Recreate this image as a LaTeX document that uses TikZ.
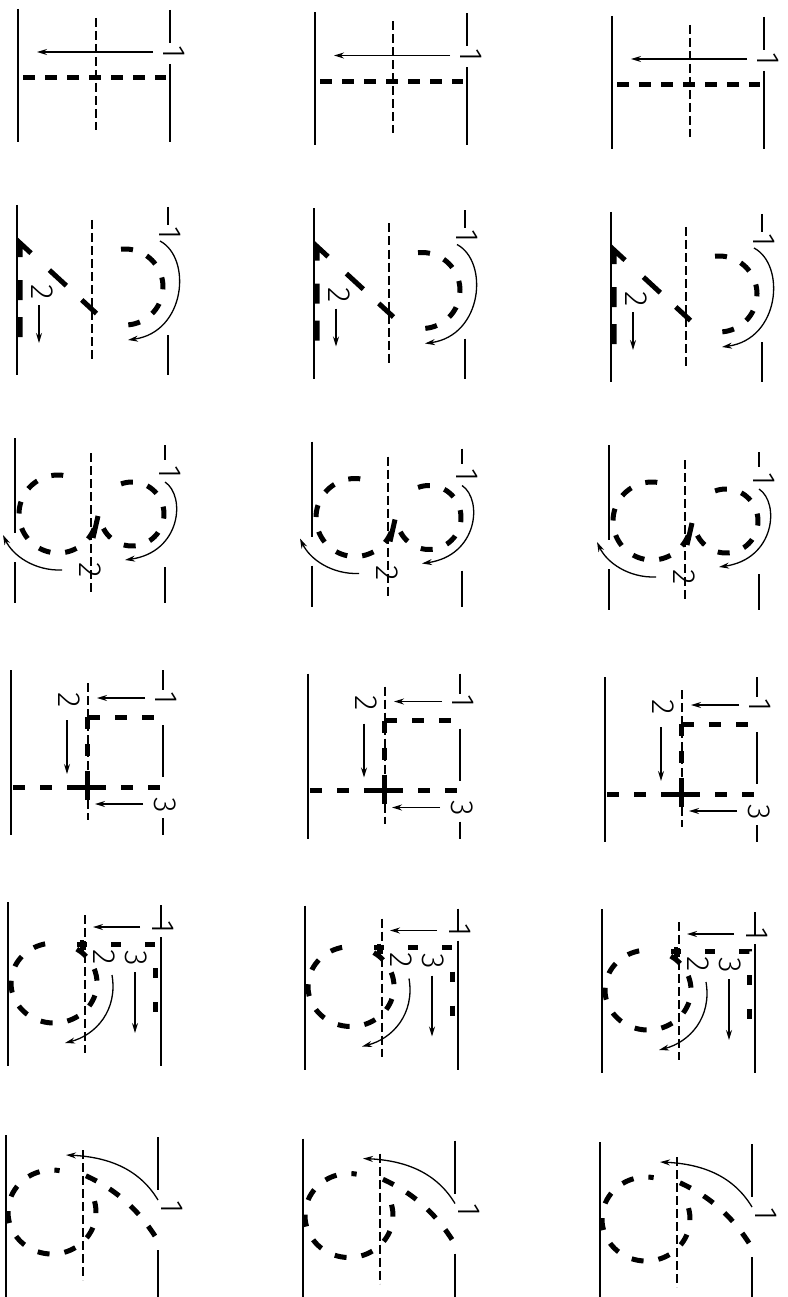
\documentclass[tikz,border=0pt]{standalone}
\usepackage{fontspec}
\newfontfamily\dig{Fira Sans Light}
\usetikzlibrary{arrows.meta}
\tikzset{
 guide/.style={line width=2.6pt},
 midl/.style={line width=1.1pt, dash pattern=on 9pt off 4pt},
 stk/.style={line width=5pt, dash pattern=on 12pt off 15pt},
 stkd/.style={line width=5pt, dash pattern=on 12pt off 10pt},
 stks/.style={line width=5pt, dash pattern=on 20pt off 17pt on 20pt off 23pt on 29pt off 25pt on 23pt off 21pt on 20pt off 20pt},
 arr/.style={line width=1.3pt, -{Stealth[length=10pt,width=6pt]}},
 num/.style={font=\dig\fontsize{32}{32}\selectfont, rotate=-90, inner sep=0pt},
}
\newcommand\kcol[1]{%
 % ---- row 1
 \draw[guide] (18,9) -- (18,142);
 \draw[guide] (170,10) -- (170,43);
 \draw[guide] (170,64) -- (170,142);
 \draw[midl] (96,18) -- (96,130);
 \draw[stkd] (23,78) -- (166,78);
 \node[num] (#1ra) at (174,52) {1};
 \draw[arr] (153,52) coordinate (#1ras) -- (37,52) coordinate (#1rae);
 % ---- row 2
 \draw[guide] (17,205) -- (17,375);
 \draw[guide] (168,207) -- (168,225);
 \draw[guide] (168,335) -- (168,375);
 \draw[midl] (92,220) -- (92,362);
 \draw[stk] plot[domain=-96:98, samples=50, variable=\t] ({125+38*cos(\t)},{287+38*sin(\t)});
 \draw[stks, line join=miter] (20,337) -- (20,243) -- (97,314);
 \node[num] (#1rba) at (170,233) {1};
 \node[num] (#1rbb) at (42,292) {2};
 \draw[arr] (160,241) coordinate (#1rbas) .. controls (192,258) and (186,332) .. (128,340) coordinate (#1rbae);
 \draw[arr] (39,305) coordinate (#1rbbs) -- (39,343) coordinate (#1rbbe);
 % ---- row 3
 \draw[guide] (15,438) -- (15,533);
 \draw[guide] (15,562) -- (15,603);
 \draw[guide] (165,445) -- (165,460);
 \draw[guide] (165,567) -- (165,603);
 \draw[midl] (91,453) -- (91,592);
 \draw[stk] plot[domain=-110:168, samples=60, variable=\t] ({132+32*cos(\t)},{514+32*sin(\t)});
 \draw[stk] plot[domain=22:282, samples=60, variable=\t] ({58+39*cos(\t)},{514+39*sin(\t)});
 \draw[line width=5pt] (93,538) -- (98,516);
 \node[num] (#1rca) at (170,472) {1};
 \node[num] (#1rcb) at (90,570) {2};
 \draw[arr] (165,482) coordinate (#1rcas) .. controls (186,496) and (181,552) .. (125,560) coordinate (#1rcae);
 \draw[arr] (62,570) coordinate (#1rcbs) .. controls (35,571) and (13,556) .. (3,535) coordinate (#1rcbe);
 % ---- row 4
 \draw[guide] (11,670) -- (11,835);
 \draw[guide] (163,670) -- (163,690);
 \draw[guide] (163,725) -- (163,777);
 \draw[guide] (163,818) -- (163,835);
 \draw[midl] (88,683) -- (88,820);
 \draw[stk] (88,717) -- (160,717);
 \draw[stk] (87,717) -- (87,800);
 \draw[stk] (13,787) -- (160,787);
 \draw[line width=5pt] (79,787) -- (96,787);
 \draw[line width=5pt] (87,777) -- (87,798);
 \node[num] (#1rda) at (166,698) {1};
 \node[num] (#1rdb) at (69,700) {2};
 \node[num] (#1rdc) at (165,805) {3};
 \draw[arr] (145,698) coordinate (#1rdas) -- (97,698) coordinate (#1rdae);
 \draw[arr] (67,720) coordinate (#1rdbs) -- (67,774) coordinate (#1rdbe);
 \draw[arr] (143,804) coordinate (#1rdcs) -- (95,804) coordinate (#1rdce);
 % ---- row 5
 \draw[guide] (8,902) -- (8,1066);
 \draw[guide] (161,905) -- (161,928);
 \draw[guide] (161,937) -- (161,1066);
 \draw[midl] (85,915) -- (85,1053);
 \draw[line width=5pt, dash pattern=on 10pt off 24pt] (77,944) -- (155,944) -- (155,1022);
 \draw[line width=4.5pt] (82,940) -- (82,952);
 \draw[stk] plot[domain=-58:266, samples=70, variable=\t] ({54+43*cos(\t)},{983+40*sin(\t)});
 \node[num] (#1rea) at (163,927) {1};
 \node[num] (#1reb) at (104,957) {2};
 \node[num] (#1rec) at (136,958) {3};
 \draw[arr] (140,927) coordinate (#1reas) -- (93,927) coordinate (#1reae);
 \draw[arr] (112,975) coordinate (#1rebs) .. controls (118,1010) and (96,1035) .. (65,1043) coordinate (#1rebe);
 \draw[arr] (135,972) coordinate (#1recs) -- (135,1033) coordinate (#1rece);
 % ---- row 6
 \draw[guide] (6,1135) -- (6,1297);
 \draw[guide] (158,1137) -- (158,1190);
 \draw[guide] (158,1250) -- (158,1297);
 \draw[midl] (83,1150) -- (83,1280);
 \draw[stk] (155,1236) .. controls (135,1205) and (110,1185) .. (77,1172);
 \draw[stk] plot[domain=-15:280, samples=70, variable=\t] ({52+44*cos(\t)},{1212+42*sin(\t)});
 \node[num] (#1rfa) at (172,1207) {1};
 \draw[arr] (158,1200) coordinate (#1rfas) .. controls (140,1170) and (110,1157) .. (66,1155) coordinate (#1rfae);
}
\begin{document}
\begin{tikzpicture}[x=1pt,y=-1pt]
\useasboundingbox (0,0) rectangle (787,1297);
\begin{scope}
\clip (0,0) rectangle (787,1297);
\begin{scope}\kcol{a}\end{scope}
\begin{scope}[shift={(297,3.5)}]\kcol{b}\end{scope}
\begin{scope}[shift={(594,7)}]\kcol{c}\end{scope}
\end{scope}
\end{tikzpicture}
\end{document}
